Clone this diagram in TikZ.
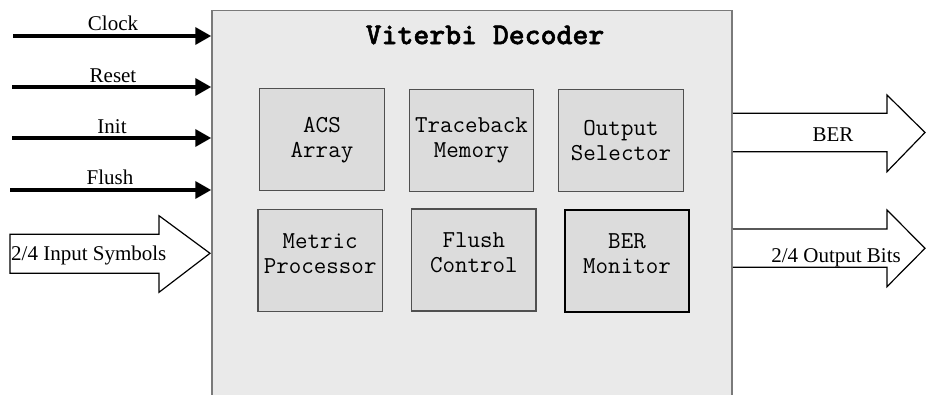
\documentclass[tikz,border=0pt]{standalone}
\usepackage{fontspec}
\setmainfont{Liberation Serif}
\newfontfamily\titlefont{lmmonolt10-bold.otf}[FakeBold=1.6]
\usetikzlibrary{arrows.meta,calc}
\definecolor{mainfill}{HTML}{EAEAEA}
\definecolor{mainline}{HTML}{7A7A7A}
\definecolor{boxfill}{HTML}{DCDCDC}
\definecolor{boxline}{HTML}{505050}
\tikzset{
  mainbox/.style={draw=mainline, fill=mainfill, line width=1.5pt, inner sep=0pt},
  subbox/.style={draw=boxline, fill=boxfill, line width=1.2pt, inner sep=0pt,
    minimum width=124.5pt, minimum height=102pt},
  boxtext/.style={font=\ttfamily\fontsize{24.3}{25}\selectfont, align=center, inner sep=0pt},
  sigtext/.style={font=\fontsize{21}{24}\selectfont, inner sep=0pt, anchor=base},
  sig/.style={line width=3.5pt, -{Triangle[length=16pt,width=17pt]}},
  bigarrow/.style={draw=black, fill=white, line width=1.2pt, line join=miter},
}
\begin{document}
\begin{tikzpicture}[x=1pt,y=-1pt]
\useasboundingbox (0,0) rectangle (926,395);
\clip (0,0) rectangle (926,395);
% main block
\node[mainbox, minimum width=520pt, minimum height=420pt] (main) at (472,220.7) {};
\node[font=\titlefont\fontsize{30.3}{32}\selectfont, inner sep=0pt] (title) at (485,35) {Viterbi Decoder};
% sub blocks
\node[subbox] (acs) at (322,139.8) {};
\node[boxtext] (acst) at (acs.center) {ACS\\Array};
\node[subbox] (tbm) at (471.5,140.2) {};
\node[boxtext] (tbmt) at (tbm.center) {Traceback\\Memory};
\node[subbox] (osel) at (621,140.8) {};
\node[boxtext] (oselt) at (osel.center) {Output\\Selector};
\node[subbox] (mp) at (320.2,260.2) {};
\node[boxtext] (mpt) at ([yshift=7pt]mp.center) {Metric\\Processor};
\node[subbox] (fc) at (473.8,260) {};
\node[boxtext] (fct) at ([yshift=7pt]fc.center) {Flush\\Control};
\node[subbox, draw=black, line width=2pt] (bm) at (627,260.7) {};
\node[boxtext] (bmt) at ([yshift=7pt]bm.center) {BER\\Monitor};
% control inputs
\coordinate (clk) at (13,36);
\coordinate (rst) at (12,87);
\coordinate (ini) at (12,138);
\coordinate (fl) at (10,190);
\draw[sig] (clk) -- (clk -| main.west);
\draw[sig] (rst) -- (rst -| main.west);
\draw[sig] (ini) -- (ini -| main.west);
\draw[sig] (fl) -- (fl -| main.west);
\node[sigtext] (clkt) at (113,30.7) {Clock};
\node[sigtext] (rstt) at (113,82.7) {Reset};
\node[sigtext] (init) at (112,133.3) {Init};
\node[sigtext] (flt) at (110,184.3) {Flush};
% input symbols big arrow
\draw[bigarrow] (10,234.3) -- (159,234.3) -- (159,215.7) -- (210,253.3) -- (159,292.3) -- (159,273.3) -- (10,273.3) -- cycle;
\node[sigtext, anchor=base west] (inst) at (11,260.5) {2/4 Input Symbols};
% output big arrows
\draw[bigarrow] (main.east |- 0,113.3) -- (887,113.3) -- (887,95) -- (925,132.5) -- (887,171.7) -- (887,151.7) -- (main.east |- 0,151.7);
\node[sigtext] (bert) at (833,141.7) {BER};
\draw[bigarrow] (main.east |- 0,229) -- (887,229) -- (887,210) -- (925,248.3) -- (887,286.7) -- (887,267.3) -- (main.east |- 0,267.3);
\node[sigtext] (obt) at (836,262.7) {2/4 Output Bits};
\end{tikzpicture}
\end{document}
